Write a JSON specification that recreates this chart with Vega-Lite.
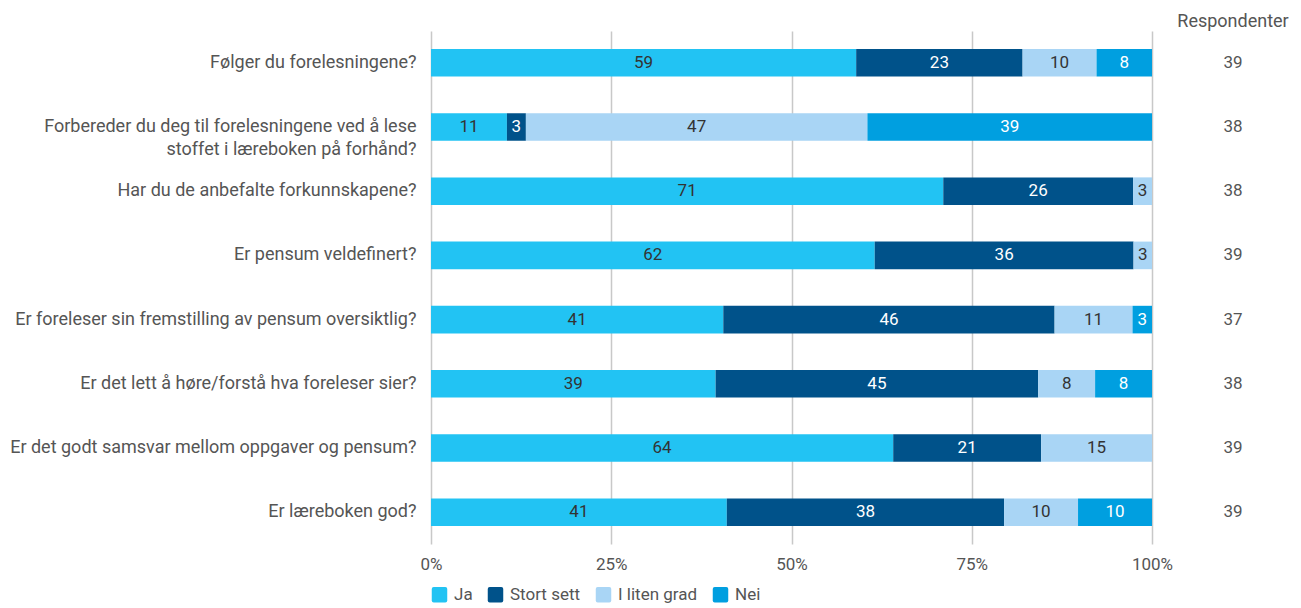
{
  "$schema": "https://vega.github.io/schema/vega-lite/v6.json",
  "padding": {"left": 9, "top": 13, "right": 0, "bottom": 0},
  "background": "white",
  "config": {
    "font": "Roboto",
    "view": {"stroke": null},
    "axis": {"labelFont": "Roboto", "labelColor": "#555", "labelFontSize": 17},
    "legend": {"labelFont": "Roboto", "labelColor": "#555", "labelFontSize": 17}
  },
  "datasets": {
    "answers": [
      {"q": "Følger du forelesningene?", "cat": "Ja", "k": 1, "pct": 58.97},
      {"q": "Følger du forelesningene?", "cat": "Stort sett", "k": 2, "pct": 23.08},
      {"q": "Følger du forelesningene?", "cat": "I liten grad", "k": 3, "pct": 10.26},
      {"q": "Følger du forelesningene?", "cat": "Nei", "k": 4, "pct": 7.69},
      {"q": "Forbereder du deg til forelesningene ved å lese|stoffet i læreboken på forhånd?", "cat": "Ja", "k": 1, "pct": 10.53},
      {"q": "Forbereder du deg til forelesningene ved å lese|stoffet i læreboken på forhånd?", "cat": "Stort sett", "k": 2, "pct": 2.63},
      {"q": "Forbereder du deg til forelesningene ved å lese|stoffet i læreboken på forhånd?", "cat": "I liten grad", "k": 3, "pct": 47.37},
      {"q": "Forbereder du deg til forelesningene ved å lese|stoffet i læreboken på forhånd?", "cat": "Nei", "k": 4, "pct": 39.47},
      {"q": "Har du de anbefalte forkunnskapene?", "cat": "Ja", "k": 1, "pct": 71.05},
      {"q": "Har du de anbefalte forkunnskapene?", "cat": "Stort sett", "k": 2, "pct": 26.32},
      {"q": "Har du de anbefalte forkunnskapene?", "cat": "I liten grad", "k": 3, "pct": 2.63},
      {"q": "Er pensum veldefinert?", "cat": "Ja", "k": 1, "pct": 61.54},
      {"q": "Er pensum veldefinert?", "cat": "Stort sett", "k": 2, "pct": 35.90},
      {"q": "Er pensum veldefinert?", "cat": "I liten grad", "k": 3, "pct": 2.56},
      {"q": "Er foreleser sin fremstilling av pensum oversiktlig?", "cat": "Ja", "k": 1, "pct": 40.54},
      {"q": "Er foreleser sin fremstilling av pensum oversiktlig?", "cat": "Stort sett", "k": 2, "pct": 45.95},
      {"q": "Er foreleser sin fremstilling av pensum oversiktlig?", "cat": "I liten grad", "k": 3, "pct": 10.81},
      {"q": "Er foreleser sin fremstilling av pensum oversiktlig?", "cat": "Nei", "k": 4, "pct": 2.70},
      {"q": "Er det lett å høre/forstå hva foreleser sier?", "cat": "Ja", "k": 1, "pct": 39.47},
      {"q": "Er det lett å høre/forstå hva foreleser sier?", "cat": "Stort sett", "k": 2, "pct": 44.74},
      {"q": "Er det lett å høre/forstå hva foreleser sier?", "cat": "I liten grad", "k": 3, "pct": 7.89},
      {"q": "Er det lett å høre/forstå hva foreleser sier?", "cat": "Nei", "k": 4, "pct": 7.89},
      {"q": "Er det godt samsvar mellom oppgaver og pensum?", "cat": "Ja", "k": 1, "pct": 64.10},
      {"q": "Er det godt samsvar mellom oppgaver og pensum?", "cat": "Stort sett", "k": 2, "pct": 20.51},
      {"q": "Er det godt samsvar mellom oppgaver og pensum?", "cat": "I liten grad", "k": 3, "pct": 15.38},
      {"q": "Er læreboken god?", "cat": "Ja", "k": 1, "pct": 41.03},
      {"q": "Er læreboken god?", "cat": "Stort sett", "k": 2, "pct": 38.46},
      {"q": "Er læreboken god?", "cat": "I liten grad", "k": 3, "pct": 10.26},
      {"q": "Er læreboken god?", "cat": "Nei", "k": 4, "pct": 10.26}
    ],
    "resp": [
      {"q": "Følger du forelesningene?", "n": 39},
      {"q": "Forbereder du deg til forelesningene ved å lese|stoffet i læreboken på forhånd?", "n": 38},
      {"q": "Har du de anbefalte forkunnskapene?", "n": 38},
      {"q": "Er pensum veldefinert?", "n": 39},
      {"q": "Er foreleser sin fremstilling av pensum oversiktlig?", "n": 37},
      {"q": "Er det lett å høre/forstå hva foreleser sier?", "n": 38},
      {"q": "Er det godt samsvar mellom oppgaver og pensum?", "n": 39},
      {"q": "Er læreboken god?", "n": 39}
    ]
  },
  "spacing": 0,
  "hconcat": [
    {
      "width": 721,
      "height": 513,
      "data": {"name": "answers"},
      "encoding": {
        "y": {
          "field": "q", "type": "nominal", "sort": null,
          "scale": {"paddingInner": 0.57, "paddingOuter": 0.28},
          "axis": {"title": null, "domain": false, "ticks": false, "labelPadding": 15, "labelLineHeight": 23, "labelLimit": 500,
                   "labelFontSize": 18, "labelExpr": "split(datum.value, '|')"}
        },
        "x": {
          "field": "pct", "type": "quantitative", "stack": "normalize",
          "scale": {"domain": [0, 1]},
          "axis": {"title": null, "format": "%", "values": [0, 0.25, 0.5, 0.75, 1], "domain": false, "ticks": false,
                   "grid": true, "gridColor": "#c8c8c8", "gridWidth": 1.5, "labelPadding": 12, "labelFlush": false}
        },
        "order": {"field": "k", "type": "quantitative"}
      },
      "layer": [
        {
          "mark": {"type": "bar"},
          "encoding": {
            "color": {
              "field": "cat", "type": "nominal",
              "scale": {"domain": ["Ja", "Stort sett", "I liten grad", "Nei"], "range": ["#22c3f3", "#00528a", "#a9d5f5", "#009fe0"]},
              "legend": {"title": null, "orient": "bottom", "direction": "horizontal",
                         "symbolType": "M -0.75,-1 L 0.75,-1 Q 1,-1 1,-0.75 L 1,0.75 Q 1,1 0.75,1 L -0.75,1 Q -1,1 -1,0.75 L -1,-0.75 Q -1,-1 -0.75,-1 Z",
                         "symbolSize": 240, "symbolStrokeWidth": 0, "labelOffset": 6, "columnPadding": 14, "offset": 14}
            }
          }
        },
        {
          "mark": {"type": "text", "font": "Roboto", "fontSize": 17},
          "encoding": {
            "x": {"field": "pct", "type": "quantitative", "stack": "normalize", "bandPosition": 0.5},
            "text": {"field": "pct", "type": "quantitative", "format": ".0f"},
            "color": {"condition": {"test": "datum.cat == 'Stort sett' || datum.cat == 'Nei'", "value": "white"}, "value": "#333"}
          }
        }
      ]
    },
    {
      "width": 120,
      "height": 513,
      "data": {"name": "resp"},
      "title": {"text": "Respondenter", "font": "Roboto", "fontSize": 18, "fontWeight": "normal", "color": "#555", "anchor": "middle", "offset": 0},
      "mark": {"type": "text", "font": "Roboto", "fontSize": 17, "color": "#555"},
      "encoding": {
        "y": {"field": "q", "type": "nominal", "sort": null, "axis": null,
              "scale": {"paddingInner": 0.57, "paddingOuter": 0.28}},
        "text": {"field": "n", "type": "quantitative"}
      }
    }
  ]
}
